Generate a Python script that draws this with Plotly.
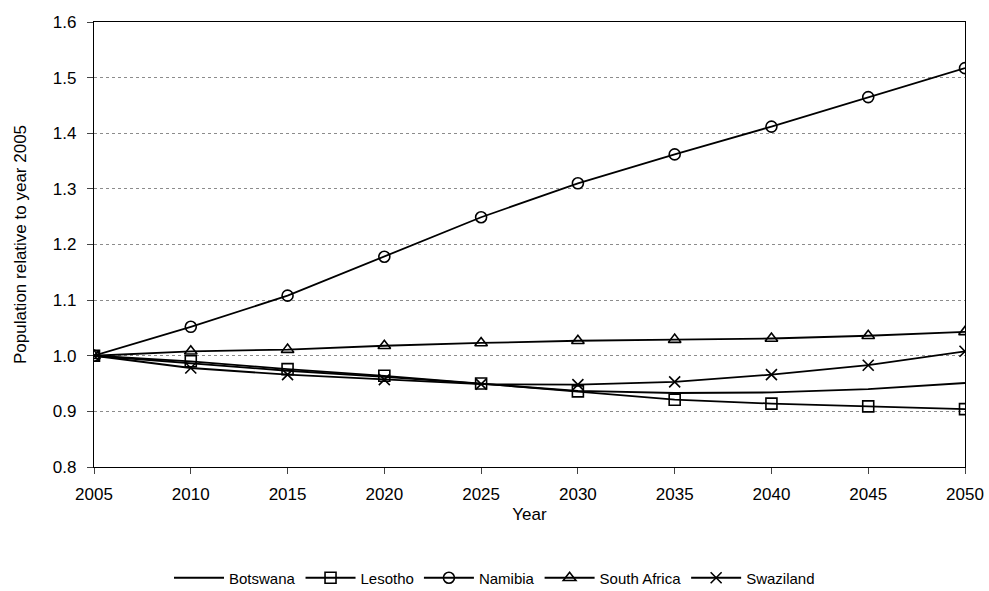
import plotly.graph_objects as go

years = [2005, 2010, 2015, 2020, 2025, 2030, 2035, 2040, 2045, 2050]
botswana = [1.0, 0.986, 0.973, 0.962, 0.949, 0.937, 0.933, 0.934, 0.940, 0.951]
lesotho = [1.0, 0.990, 0.976, 0.964, 0.950, 0.936, 0.921, 0.914, 0.909, 0.904]
namibia = [1.0, 1.052, 1.108, 1.178, 1.249, 1.310, 1.362, 1.412, 1.465, 1.517]
south_africa = [1.0, 1.008, 1.011, 1.018, 1.023, 1.027, 1.029, 1.031, 1.036, 1.043]
swaziland = [1.0, 0.978, 0.966, 0.957, 0.949, 0.948, 0.953, 0.966, 0.983, 1.008]

series = [
    ("Botswana", botswana, None),
    ("Lesotho", lesotho, "square-open"),
    ("Namibia", namibia, "circle-open"),
    ("South Africa", south_africa, "triangle-up-open"),
    ("Swaziland", swaziland, "x-thin-open"),
]

fig = go.Figure()
for name, vals, sym in series:
    if sym is None:
        fig.add_trace(go.Scatter(x=years, y=vals, name=name, mode="lines",
                                 line=dict(color="black", width=1.8)))
    else:
        fig.add_trace(go.Scatter(x=years, y=vals, name=name, mode="lines+markers",
                                 line=dict(color="black", width=1.8),
                                 marker=dict(symbol=sym, size=11, color="black",
                                             line=dict(color="black", width=1.6))))

fig.update_layout(
    width=989, height=591,
    margin=dict(l=94, r=24, t=22, b=124),
    paper_bgcolor="white", plot_bgcolor="white",
    font=dict(family="Liberation Sans, Arial, sans-serif", size=17, color="black"),
    showlegend=True,
    legend=dict(orientation="h", xref="container", yref="container",
                x=0.5, xanchor="center", y=0.022, yanchor="middle",
                font=dict(size=15), itemwidth=50),
    xaxis=dict(range=[2005, 2050], tickvals=years, ticks="outside", ticklen=6,
               ticklabelstandoff=5, automargin=False,
               showline=True, linecolor="black", linewidth=1.3, mirror=True,
               showgrid=False, zeroline=False,
               title=dict(text="Year", standoff=5, font=dict(size=17))),
    yaxis=dict(range=[0.8, 1.6], dtick=0.1, tickformat=".1f", ticks="outside", ticklen=6,
               ticklabelstandoff=7, automargin=False,
               showline=True, linecolor="black", linewidth=1.3, mirror=True,
               showgrid=True, gridcolor="#8c8c8c", griddash="dot", gridwidth=1,
               zeroline=False,
               title=dict(text="Population relative to year 2005", standoff=21,
                          font=dict(size=17))),
)

fig.write_html("out.html")
